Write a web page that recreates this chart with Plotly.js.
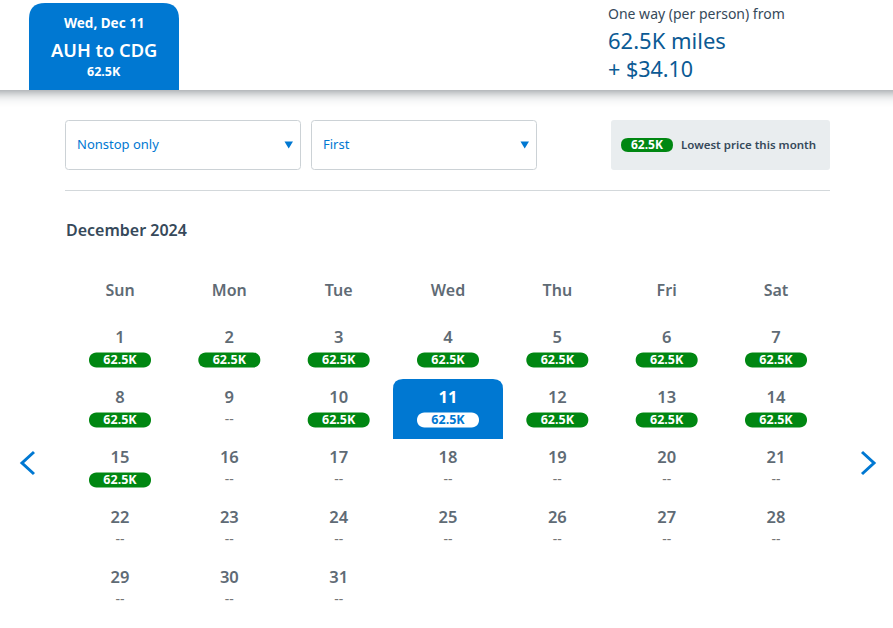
<!DOCTYPE html>
<html><head><meta charset="utf-8">
<script src="https://cdn.plot.ly/plotly-3.0.0.min.js"></script>
<style>html,body{margin:0;padding:0;background:#fff;overflow:hidden}#c{width:893px;height:628px}</style>
</head><body><div id="c"></div>
<script>
const weekdays = ["Sun","Mon","Tue","Wed","Thu","Fri","Sat"];
const dayNumbers = [1,2,3,4,5,6,7,8,9,10,11,12,13,14,15,16,17,18,19,20,21,22,23,24,25,26,27,28,29,30,31];
const dayPrices = ["62.5K","62.5K","62.5K","62.5K","62.5K","62.5K","62.5K",
  "62.5K","--","62.5K","62.5K","62.5K","62.5K","62.5K",
  "62.5K","--","--","--","--","--","--",
  "--","--","--","--","--","--","--",
  "--","--","--"];
const selectedDay = 11;
const monthTitle = "December 2024";

const W=893,H=628,FONT='"Noto Sans", sans-serif';
const BLUE='#0078d2',GREEN='#008712',SLATE='#36495a',GREY='#5f6b75',NAVY='#0b5a94';
const px=x=>x/W, py=y=>1-y/H;
const col=i=>i%7, row=i=>Math.floor(i/7);

function rr(x0,y0,x1,y1,rt,rb){
  if(rb===undefined) rb=rt;
  const X=v=>px(v).toFixed(5),Y=v=>py(v).toFixed(5);
  return `M${X(x0+rt)},${Y(y0)}L${X(x1-rt)},${Y(y0)}Q${X(x1)},${Y(y0)} ${X(x1)},${Y(y0+rt)}`+
    `L${X(x1)},${Y(y1-rb)}Q${X(x1)},${Y(y1)} ${X(x1-rb)},${Y(y1)}`+
    `L${X(x0+rb)},${Y(y1)}Q${X(x0)},${Y(y1)} ${X(x0)},${Y(y1-rb)}`+
    `L${X(x0)},${Y(y0+rt)}Q${X(x0)},${Y(y0)} ${X(x0+rt)},${Y(y0)}Z`;
}
const P=(path,fill,line,w)=>({type:'path',xref:'paper',yref:'paper',path,fillcolor:fill||'rgba(0,0,0,0)',line:{color:line||'rgba(0,0,0,0)',width:line?(w||1):0},layer:'below'});
const R=(x0,y0,x1,y1,fill)=>({type:'rect',xref:'paper',yref:'paper',x0:px(x0),x1:px(x1),y0:py(y0),y1:py(y1),fillcolor:fill,line:{width:0},layer:'below'});
const poly=(pts,close)=>pts.map((p,i)=>(i?'L':'M')+px(p[0]).toFixed(5)+','+py(p[1]).toFixed(5)).join('')+(close?'Z':'');
// pixel paths anchored on the calendar axes: y grows upward
const pillPath='M-23.5,-18.5L23.5,-18.5C33.5,-18.5 33.5,-3.5 23.5,-3.5L-23.5,-3.5C-33.5,-3.5 -33.5,-18.5 -23.5,-18.5Z';
const cellPath='M-55,-30L-55,20Q-55,30 -45,30L45,30Q55,30 55,20L55,-30Z';

const shapes=[];
// header shadow
const shadow=['#b8bbbe','#bfc2c5','#c7cacc','#cfd1d3','#d6d8da','#dddfe0','#e3e5e6','#e9eaeb','#edeeef','#f1f2f3','#f4f5f6','#f7f8f8','#f9f9fa','#fafbfb','#fcfcfc','#fdfdfd','#fefefe'];
shadow.forEach((c,i)=>shapes.push(R(0,90+i,W,91+i,c)));
// header tab
shapes.push(P(rr(29,3,179,90,16,0),BLUE));
// selects
shapes.push(P(rr(65.5,120.5,300.5,169.5,3),'#fff','#ccd2d6'));
shapes.push(P(rr(311.5,120.5,536.5,169.5,3),'#fff','#ccd2d6'));
shapes.push(P(poly([[284.5,141.5],[293,141.5],[288.7,148.5]],true),BLUE));
shapes.push(P(poly([[520.5,141.5],[529,141.5],[524.7,148.5]],true),BLUE));
// legend box
shapes.push(P(rr(611,120,830,170,3),'#e9edef'));
shapes.push(P(rr(621,138,673,152,7),GREEN));
// divider
shapes.push(R(65,190,830,191,'#d3d8db'));
// chevrons
shapes.push(P(poly([[34,452],[22,463],[34,474]]),null,BLUE,3));
shapes.push(P(poly([[862,452],[874,463],[862,474]]),null,BLUE,3));
// selected cell + price pills, anchored on the calendar axes
dayNumbers.forEach((d,i)=>{
  if(d===selectedDay){
    shapes.push({type:'path',xref:'x',yref:'y',xsizemode:'pixel',ysizemode:'pixel',xanchor:col(i),yanchor:row(i),
      path:cellPath,fillcolor:BLUE,line:{width:0},layer:'below'});
  }
});
dayNumbers.forEach((d,i)=>{
  if(dayPrices[i]!=='--'){
    shapes.push({type:'path',xref:'x',yref:'y',xsizemode:'pixel',ysizemode:'pixel',xanchor:col(i),yanchor:row(i),
      path:pillPath,fillcolor:d===selectedDay?'#fff':GREEN,line:{width:0},layer:'below'});
  }
});

const A=(text,x,y,size,color,weight,anchor)=>({text,xref:'paper',yref:'paper',x:px(x),y:py(y),xanchor:anchor||'left',yanchor:'middle',showarrow:false,borderpad:0,
  font:{family:FONT,size,color,weight:weight||400}});
const annotations=[
  A('Wed, Dec 11',104,23,13.5,'#fff',700,'center'),
  A('AUH to CDG',104,49,18.3,'#fff',600,'center'),
  A('62.5K',104,72,12.5,'#fff',700,'center'),
  A('One way (per person) from',607,14,14,SLATE,400),
  A('62.5K miles',607,40,22,NAVY,400),
  A('+ $34.10',607,68.5,21.5,NAVY,400),
  A('Nonstop only',76,144.5,13,BLUE,400),
  A('First',322,144.5,13,BLUE,400),
  A('62.5K',647,144.5,12,'#fff',700,'center'),
  A('Lowest price this month',680,144.5,11.5,SLATE,600),
  A(monthTitle,65,230,16,SLATE,600)
];

const traces=[
 {type:'scatter',mode:'text',hoverinfo:'skip',
  x:dayNumbers.map((d,i)=>col(i)),y:dayNumbers.map((d,i)=>row(i)-0.17),text:dayNumbers.map(String),
  textposition:'middle center',
  textfont:{family:FONT,size:16.5,weight:dayNumbers.map(d=>d===selectedDay?700:600),color:dayNumbers.map(d=>d===selectedDay?'#fff':GREY)}},
 {type:'scatter',mode:'text',hoverinfo:'skip',
  x:dayNumbers.map((d,i)=>col(i)),y:dayNumbers.map((d,i)=>row(i)+0.195),text:dayPrices,
  textposition:'middle center',
  textfont:{family:FONT,size:dayPrices.map(p=>p==='--'?14:12.5),weight:dayPrices.map(p=>p==='--'?400:700),
    color:dayNumbers.map((d,i)=>d===selectedDay?BLUE:(dayPrices[i]==='--'?'#777':'#fff'))}}
];

const layout={width:W,height:H,margin:{l:0,r:0,t:0,b:0,pad:0},paper_bgcolor:'#fff',plot_bgcolor:'rgba(0,0,0,0)',showlegend:false,
 font:{family:FONT},
 xaxis:{domain:[65.33/W,830.67/W],range:[-0.5,6.5],side:'top',tickmode:'array',tickvals:weekdays.map((w,i)=>i),ticktext:weekdays,
   showgrid:false,zeroline:false,showline:false,ticks:'outside',ticklen:16,tickcolor:'rgba(0,0,0,0)',
   tickfont:{family:FONT,size:16,color:GREY,weight:600},fixedrange:true},
 yaxis:{domain:[py(619),py(319)],range:[4.5,-0.5],visible:false,fixedrange:true},
 shapes,annotations};
Plotly.newPlot('c',traces,layout,{displayModeBar:false,staticPlot:true});
</script></body></html>
